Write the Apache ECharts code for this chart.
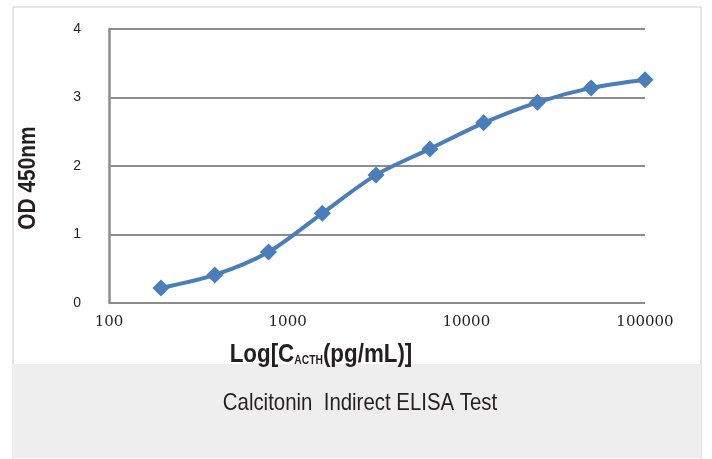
<!DOCTYPE html>
<html>
<head>
<meta charset="utf-8">
<script src="https://cdn.jsdelivr.net/npm/echarts@6/dist/echarts.min.js"></script>
<style>html,body{margin:0;padding:0;background:#fff;}#c{width:712px;height:459px;}</style>
</head>
<body>
<div id="c"></div>
<script>
var concentrations = [195.3125, 390.625, 781.25, 1562.5, 3125, 6250, 12500, 25000, 50000, 100000];
var odValues = [0.22, 0.41, 0.745, 1.31, 1.87, 2.25, 2.63, 2.93, 3.14, 3.26];
var yTicks = [0, 1, 2, 3, 4];
var xTicks = [100, 1000, 10000, 100000];
var chartTitle = 'Calcitonin  Indirect ELISA Test';
var yName = 'OD 450nm';

var chart = echarts.init(document.getElementById('c'));
var pts = concentrations.map(function (c, i) { return [c, odValues[i]]; });
var sans = '"Liberation Sans", Arial, sans-serif';

chart.setOption({
  animation: false,
  backgroundColor: '#ffffff',
  grid: { left: 109, right: 67, top: 29, bottom: 156 },
  graphic: [
    { type: 'rect', z: -10, shape: { x: 13, y: 7, width: 688, height: 460 }, style: { fill: '#ffffff', stroke: '#cccccc', lineWidth: 1 } },
    { type: 'rect', z: -9, shape: { x: 12, y: 364, width: 689, height: 94 }, style: { fill: '#eeeeee' } },
    { type: 'text', x: 28, y: 178, rotation: Math.PI / 2, scaleX: 0.87,
      style: { text: yName, fontFamily: sans, fontWeight: 'bold', fontSize: 24, fill: '#231f20', textAlign: 'center', textVerticalAlign: 'middle' } },
    { type: 'text', x: 321, y: 353, scaleX: 0.86,
      style: {
        text: '{a|Log[C}{s|ACTH}{a|(pg/mL)]}',
        textAlign: 'center', textVerticalAlign: 'middle',
        rich: {
          a: { fontFamily: sans, fontWeight: 'bold', fontSize: 26, fill: '#231f20', lineHeight: 30, verticalAlign: 'bottom' },
          s: { fontFamily: sans, fontWeight: 'bold', fontSize: 12, fill: '#231f20', lineHeight: 30, verticalAlign: 'bottom', padding: [0, 0, 1, 0] }
        }
      } },
    { type: 'text', x: 360, y: 403, scaleX: 0.85,
      style: { text: chartTitle, fontFamily: sans, fontWeight: 'normal', fontSize: 24, fill: '#231f20', textAlign: 'center', textVerticalAlign: 'middle' } }
  ],
  xAxis: {
    type: 'log', logBase: 10, min: xTicks[0], max: xTicks[xTicks.length - 1],
    axisLine: { show: false },
    axisTick: { show: false },
    splitLine: { show: false },
    axisLabel: { margin: 12, fontFamily: '"DejaVu Serif", "Liberation Serif", serif', fontSize: 15, color: '#231f20', showMinLabel: true, showMaxLabel: true,
      formatter: function (v) { return String(Math.round(v)); } }
  },
  yAxis: {
    type: 'value', min: yTicks[0], max: yTicks[yTicks.length - 1], interval: 1,
    axisLine: { show: true, lineStyle: { color: '#8c8c8c', width: 2.5 } },
    axisTick: { show: false },
    splitLine: { show: true, lineStyle: { color: '#8c8c8c', width: 2 } },
    axisLabel: { margin: 28, fontFamily: sans, fontSize: 14, color: '#231f20' }
  },
  series: [{
    type: 'line',
    data: pts,
    smooth: 0.3,
    symbol: 'diamond',
    symbolSize: 17,
    lineStyle: { color: '#4a7ebb', width: 4 },
    itemStyle: { color: '#4a7ebb' }
  }]
});
</script>
</body>
</html>
